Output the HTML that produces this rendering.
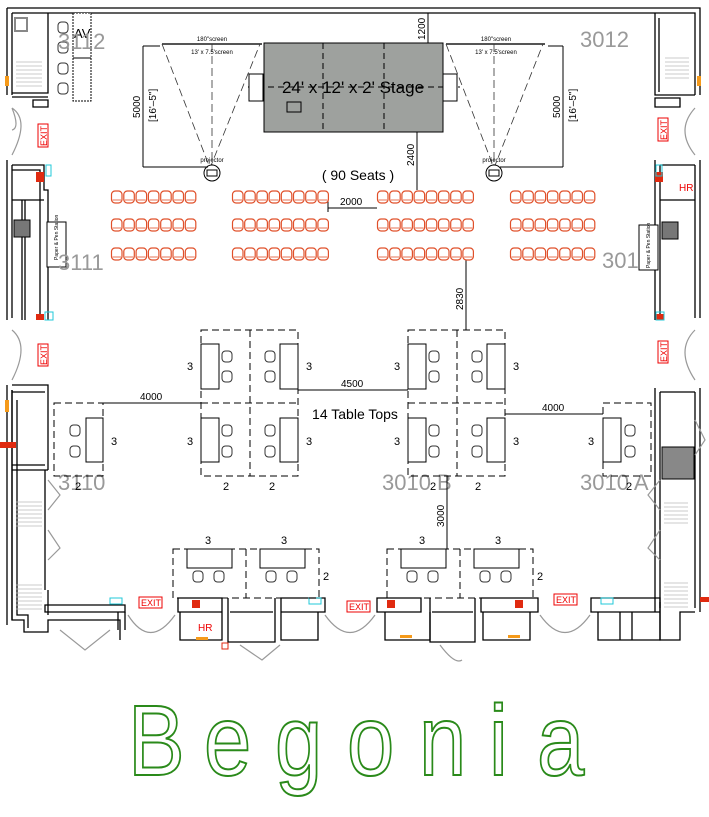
<!DOCTYPE html>
<html><head><meta charset="utf-8"><style>
html,body{margin:0;padding:0;background:#fff}
svg{display:block}
text{font-family:"Liberation Sans",sans-serif}
</style></head><body>
<svg width="709" height="817" viewBox="0 0 709 817" xmlns="http://www.w3.org/2000/svg">
<defs>
<g id="ch"><rect x="0.5" y="0" width="10.5" height="12" rx="3.5" fill="#fff" stroke="#e0502a" stroke-width="1.2"/><path d="M1.5 9 h8.5" stroke="#e0502a" stroke-width="0.8"/></g>
<g id="bc"><rect x="0" y="0" width="10" height="11" rx="3.5" fill="#fff" stroke="#333" stroke-width="1"/></g>
<g id="r7"><use href="#ch" x="111"/><use href="#ch" x="123.3"/><use href="#ch" x="135.6"/><use href="#ch" x="147.9"/><use href="#ch" x="160.2"/><use href="#ch" x="172.5"/><use href="#ch" x="184.8"/></g>
<g id="r8"><use href="#ch" x="232"/><use href="#ch" x="244.2"/><use href="#ch" x="256.4"/><use href="#ch" x="268.6"/><use href="#ch" x="280.8"/><use href="#ch" x="293"/><use href="#ch" x="305.2"/><use href="#ch" x="317.4"/></g>
</defs>
<rect width="709" height="817" fill="#fff"/>

<!-- outer walls -->
<g fill="none" stroke="#000" stroke-width="1.3">
<path d="M7 8 H700 V95"/>
<path d="M12 13 H695 V95"/>
<path d="M7 8 V95 M12 13 V95"/>
<path d="M7 160 V320 M12 165 V318"/>
<path d="M7 385 V625 M12 390 V620"/>
<path d="M700 160 V318 M695 165 V318"/>
<path d="M700 388 V612 M695 392 V608"/>
<path d="M12 93 H48 V13 M48 20 V93 M12 97 H48"/>
<path d="M33 100 h15 v7 h-15z"/>
<path d="M12 165 H44 V190 H48 V320 M12 170 H40 V320"/>
<path d="M12 200 H44 M22 200 V320 M25 200 V320"/>
<path d="M12 385 H48 V470 M12 392 H45 M12 465 H45"/>
<path d="M12 390 V620 H24 V632 H48 V620 H120 V640 M17 400 V615 H28 V628"/>
<path d="M48 470 H12 M45 470 V590 M48 590 V615"/>
<path d="M45 605 H125 V612 H45z"/>
<path d="M125 612 V630 M118 612 V630"/>
<path d="M178 598 H222 V612 H178z M180 612 V640 H222 V612"/>
<path d="M228 598 V642 H275 V598 M230 612 H273"/>
<path d="M281 598 H325 V612 H281z M281 612 V640 H318 V612"/>
<path d="M377 598 H421 V612 H377z M385 612 V640 H430 V612"/>
<path d="M430 598 V642 H475 V598 M432 612 H473"/>
<path d="M481 598 H538 V612 H481z M483 612 V640 H530 V612"/>
<path d="M591 598 H660 V612 H591z M598 612 V640 H660 V612 M620 612 V640 M632 612 V640"/>
<path d="M660 602 V640 H680 V612 H695"/>
<path d="M655 13 V95 H695 M659 18 V92 M655 98 H680 V107 H655z"/>
<path d="M655 160 V320 M660 165 V320 M660 165 H695 M660 200 H695 M655 200 V320"/>
<path d="M655 388 V612 M660 392 V608 M660 392 H695"/>
</g>
<g fill="none" stroke="#999" stroke-width="1.2">
<path d="M12 108 Q30 120 12 155 M12 108 Q20 128 12 130"/>
<path d="M12 330 Q30 345 12 380"/>
<path d="M695 108 Q675 130 695 155"/>
<path d="M695 330 Q675 350 695 380"/>
<path d="M48 480 L60 495 L48 510 M48 530 L60 548 L48 560"/>
<path d="M660 480 L648 495 L660 510 M660 530 L648 548 L660 560"/>
<path d="M60 630 L85 650 L110 630"/>
<path d="M128 615 Q150 650 175 615"/>
<path d="M325 615 Q350 650 375 615"/>
<path d="M240 645 L262 660 L280 645"/>
<path d="M540 615 Q565 650 590 615"/>
<path d="M440 645 Q455 665 462 660"/>
<path d="M695 420 L705 440 L695 455"/>
</g>
<g stroke="#bbb" stroke-width="0.8">
<path d="M16 62h26M16 66h26M16 70h26M16 74h26M16 78h26M16 82h26M16 86h26"/>
<path d="M16 502h26M16 506h26M16 510h26M16 514h26M16 518h26M16 522h26M16 526h26"/>
<path d="M16 585h26M16 589h26M16 593h26M16 597h26M16 601h26M16 605h26M16 609h26"/>
<path d="M665 58h24M665 62h24M665 66h24M665 70h24M665 74h24M665 78h24"/>
<path d="M664 503h24M664 507h24M664 511h24M664 515h24M664 519h24M664 523h24"/>
<path d="M664 583h24M664 587h24M664 591h24M664 595h24M664 599h24M664 603h24M664 607h24"/>
</g>
<rect x="15" y="18" width="12" height="13" fill="#fff" stroke="#888" stroke-width="2"/>
<rect x="14" y="220" width="16" height="17" fill="#777" stroke="#000"/>
<rect x="662" y="222" width="16" height="17" fill="#777" stroke="#000"/>
<rect x="662" y="447" width="32" height="32" fill="#888" stroke="#000"/>
<rect x="47" y="222" width="19" height="45" fill="#fff" stroke="#000"/>
<rect x="639" y="225" width="19" height="45" fill="#fff" stroke="#000"/>
<text transform="translate(58,260) rotate(-90)" font-size="5">Paper &amp; Pen Station</text>
<text transform="translate(650,268) rotate(-90)" font-size="5">Paper &amp; Pen Station</text>
<rect x="73" y="13" width="18" height="88" fill="#fff" stroke="#000" stroke-dasharray="2 1"/>
<path d="M73 58 H91" stroke="#000"/>
<text x="74" y="38" font-size="13">AV</text>
<use href="#bc" x="58" y="22"/><use href="#bc" x="58" y="42"/><use href="#bc" x="58" y="63"/><use href="#bc" x="58" y="83"/>

<g fill="#f59a1a"><rect x="5" y="76" width="4" height="10"/><rect x="5" y="400" width="4" height="12"/><rect x="697" y="76" width="4" height="10"/><rect x="196" y="637" width="12" height="3"/><rect x="400" y="635" width="12" height="3"/><rect x="508" y="635" width="12" height="3"/></g>
<g fill="#e02a10"><rect x="0" y="442" width="16" height="6"/><rect x="700" y="597" width="9" height="5"/><rect x="36" y="172" width="8" height="10"/><rect x="36" y="314" width="8" height="6"/><rect x="655" y="172" width="8" height="10"/><rect x="656" y="314" width="8" height="6"/><rect x="192" y="600" width="8" height="8"/><rect x="387" y="600" width="8" height="8"/><rect x="515" y="600" width="8" height="8"/><rect x="222" y="643" width="6" height="6" fill="none" stroke="#e02a10"/></g>
<g fill="none" stroke="#20c8d8" stroke-width="1"><rect x="46" y="165" width="5" height="11"/><rect x="656" y="165" width="6" height="11"/><rect x="110" y="598" width="12" height="6"/><rect x="309" y="598" width="12" height="6"/><rect x="601" y="598" width="12" height="6"/><rect x="45" y="312" width="8" height="8"/><rect x="656" y="312" width="8" height="8"/></g>
<g fill="#fff" stroke="#e00" stroke-width="1" font-size="9">
<rect x="38" y="124" width="10" height="23"/><rect x="658" y="118" width="10" height="23"/><rect x="38" y="344" width="10" height="22"/><rect x="658" y="341" width="10" height="22"/>
<rect x="139" y="597" width="23" height="11"/><rect x="347" y="601" width="23" height="11"/><rect x="554" y="594" width="23" height="11"/></g>
<g fill="#e00" font-size="9">
<text transform="translate(47,146) rotate(-90)">EXIT</text><text transform="translate(667,140) rotate(-90)">EXIT</text>
<text transform="translate(47,365) rotate(-90)">EXIT</text><text transform="translate(667,362) rotate(-90)">EXIT</text>
<text x="141" y="606">EXIT</text><text x="349" y="610">EXIT</text><text x="556" y="603">EXIT</text>
<text x="198" y="631" font-size="10">HR</text><text x="679" y="191" font-size="10">HR</text>
</g>

<g fill="#999" font-size="22">
<text x="58" y="49">3112</text><text x="580" y="47">3012</text>
<text x="58" y="270">3111</text><text x="602" y="268">301</text>
<text x="58" y="490">3110</text><text x="382" y="490">3010 B</text><text x="580" y="490">3010 A</text>
</g>

<rect x="264" y="43" width="179" height="89" fill="#9ea19e" stroke="#000"/>
<path d="M323 43 V132 M384 43 V132 M248 87 H460" stroke="#000" stroke-dasharray="6 4" fill="none"/>
<rect x="249" y="74" width="14" height="27" fill="#fff" stroke="#000"/>
<rect x="443" y="74" width="14" height="27" fill="#fff" stroke="#000"/>
<rect x="287" y="102" width="14" height="10" fill="none" stroke="#000"/>
<text x="353" y="93" text-anchor="middle" font-size="17">24' x 12' x 2' Stage</text>
<g stroke="#555" stroke-width="2"><path d="M162 44 H262"/><path d="M446 44 H545"/></g>
<g fill="#000" font-size="6"><text x="212" y="41" text-anchor="middle">180"screen</text><text x="212" y="54" text-anchor="middle">13' x 7.5'screen</text>
<text x="496" y="41" text-anchor="middle">180"screen</text><text x="496" y="54" text-anchor="middle">13' x 7.5'screen</text>
<text x="212" y="162" text-anchor="middle">projector</text><text x="494" y="162" text-anchor="middle">projector</text></g>
<g fill="none" stroke="#333" stroke-dasharray="8 4" stroke-width="0.8">
<path d="M162 44 L210 168 L260 44 M212 44 V168"/><path d="M446 44 L494 168 L543 44 M494 44 V168"/></g>
<circle cx="212" cy="173" r="8" fill="#fff" stroke="#000"/><rect x="207" y="170" width="10" height="6" fill="none" stroke="#000"/>
<circle cx="494" cy="173" r="8" fill="#fff" stroke="#000"/><rect x="489" y="170" width="10" height="6" fill="none" stroke="#000"/>

<g stroke="#000" fill="none" stroke-width="1">
<path d="M143 46 V167 M143 46 H160 M143 167 H208"/>
<path d="M563 46 V167 M548 46 H563 M500 167 H563"/>
<path d="M428 13 V43"/><path d="M417 132 V190"/><path d="M328 208 H377 M328 198 V212"/>
<path d="M466 258 V330"/><path d="M103 403 H201"/><path d="M298 390 H408"/><path d="M505 414 H603"/><path d="M447 476 V549"/>
</g>
<g font-size="10" fill="#000">
<text transform="translate(140,118) rotate(-90)">5000</text><text transform="translate(156,122) rotate(-90)">[16'–5"]</text>
<text transform="translate(560,118) rotate(-90)">5000</text><text transform="translate(576,122) rotate(-90)">[16'–5"]</text>
<text transform="translate(425,40) rotate(-90)">1200</text><text transform="translate(414,166) rotate(-90)">2400</text>
<text transform="translate(463,310) rotate(-90)">2830</text><text transform="translate(444,527) rotate(-90)">3000</text>
<text x="340" y="205">2000</text><text x="140" y="400">4000</text><text x="341" y="387">4500</text><text x="542" y="411">4000</text>
</g>
<text x="358" y="180" text-anchor="middle" font-size="14">( 90 Seats )</text>
<text x="355" y="419" text-anchor="middle" font-size="14">14 Table Tops</text>

<g transform="translate(0,191)"><use href="#r7"/><use href="#r8"/><use href="#r8" x="145"/><use href="#r7" x="399"/></g>
<g transform="translate(0,219)"><use href="#r7"/><use href="#r8"/><use href="#r8" x="145"/><use href="#r7" x="399"/></g>
<g transform="translate(0,248)"><use href="#r7"/><use href="#r8"/><use href="#r8" x="145"/><use href="#r7" x="399"/></g>

<g id="cl" fill="none" stroke="#000">
<rect x="201" y="330" width="97" height="146" stroke-dasharray="7 4"/>
<path d="M250 330 V476 M201 403 H298" stroke-dasharray="7 4"/>
<rect x="201" y="344" width="18" height="45" fill="#fff"/><rect x="201" y="418" width="18" height="44" fill="#fff"/>
<rect x="280" y="344" width="18" height="45" fill="#fff"/><rect x="280" y="418" width="18" height="44" fill="#fff"/>
<use href="#bc" x="222" y="351"/><use href="#bc" x="222" y="371"/><use href="#bc" x="265" y="351"/><use href="#bc" x="265" y="371"/>
<use href="#bc" x="222" y="425"/><use href="#bc" x="222" y="446"/><use href="#bc" x="265" y="425"/><use href="#bc" x="265" y="446"/>
</g>
<use href="#cl" x="207"/>
<g fill="none" stroke="#000">
<rect x="54" y="403" width="49" height="73" stroke-dasharray="7 4"/><rect x="86" y="418" width="17" height="44" fill="#fff"/>
<use href="#bc" x="70" y="425"/><use href="#bc" x="70" y="446"/>
<rect x="603" y="403" width="48" height="73" stroke-dasharray="7 4"/><rect x="603" y="418" width="18" height="44" fill="#fff"/>
<use href="#bc" x="625" y="425"/><use href="#bc" x="625" y="446"/>
</g>
<g id="bcl" fill="none" stroke="#000">
<rect x="173" y="549" width="146" height="49" stroke-dasharray="7 4"/><path d="M246 549 V598" stroke-dasharray="7 4"/>
<rect x="187" y="549" width="45" height="19" fill="#fff"/><rect x="260" y="549" width="45" height="19" fill="#fff"/>
<use href="#bc" x="193" y="571"/><use href="#bc" x="214" y="571"/><use href="#bc" x="266" y="571"/><use href="#bc" x="287" y="571"/>
</g>
<use href="#bcl" x="214"/>
<g font-size="11" fill="#000">
<text x="187" y="370">3</text><text x="306" y="370">3</text><text x="187" y="445">3</text><text x="306" y="445">3</text>
<text x="394" y="370">3</text><text x="513" y="370">3</text><text x="394" y="445">3</text><text x="513" y="445">3</text>
<text x="223" y="490">2</text><text x="269" y="490">2</text><text x="430" y="490">2</text><text x="475" y="490">2</text>
<text x="111" y="445">3</text><text x="75" y="490">2</text><text x="588" y="445">3</text><text x="626" y="490">2</text>
<text x="205" y="544">3</text><text x="281" y="544">3</text><text x="323" y="580">2</text>
<text x="419" y="544">3</text><text x="495" y="544">3</text><text x="537" y="580">2</text>
</g>

<g fill="#fff" stroke="#2a8a1a" stroke-width="2" font-family="'Liberation Sans Narrow','Liberation Sans',sans-serif" font-size="100">
<text transform="translate(128,775) scale(0.85,1)">B</text>
<text transform="translate(204,775) scale(0.85,1)">e</text>
<text transform="translate(275,775) scale(0.85,1)">g</text>
<text transform="translate(347,775) scale(0.85,1)">o</text>
<text transform="translate(419,775) scale(0.85,1)">n</text>
<text transform="translate(489,775) scale(0.85,1)">i</text>
<text transform="translate(537,775) scale(0.85,1)">a</text>
</g>
</svg>
</body></html>
